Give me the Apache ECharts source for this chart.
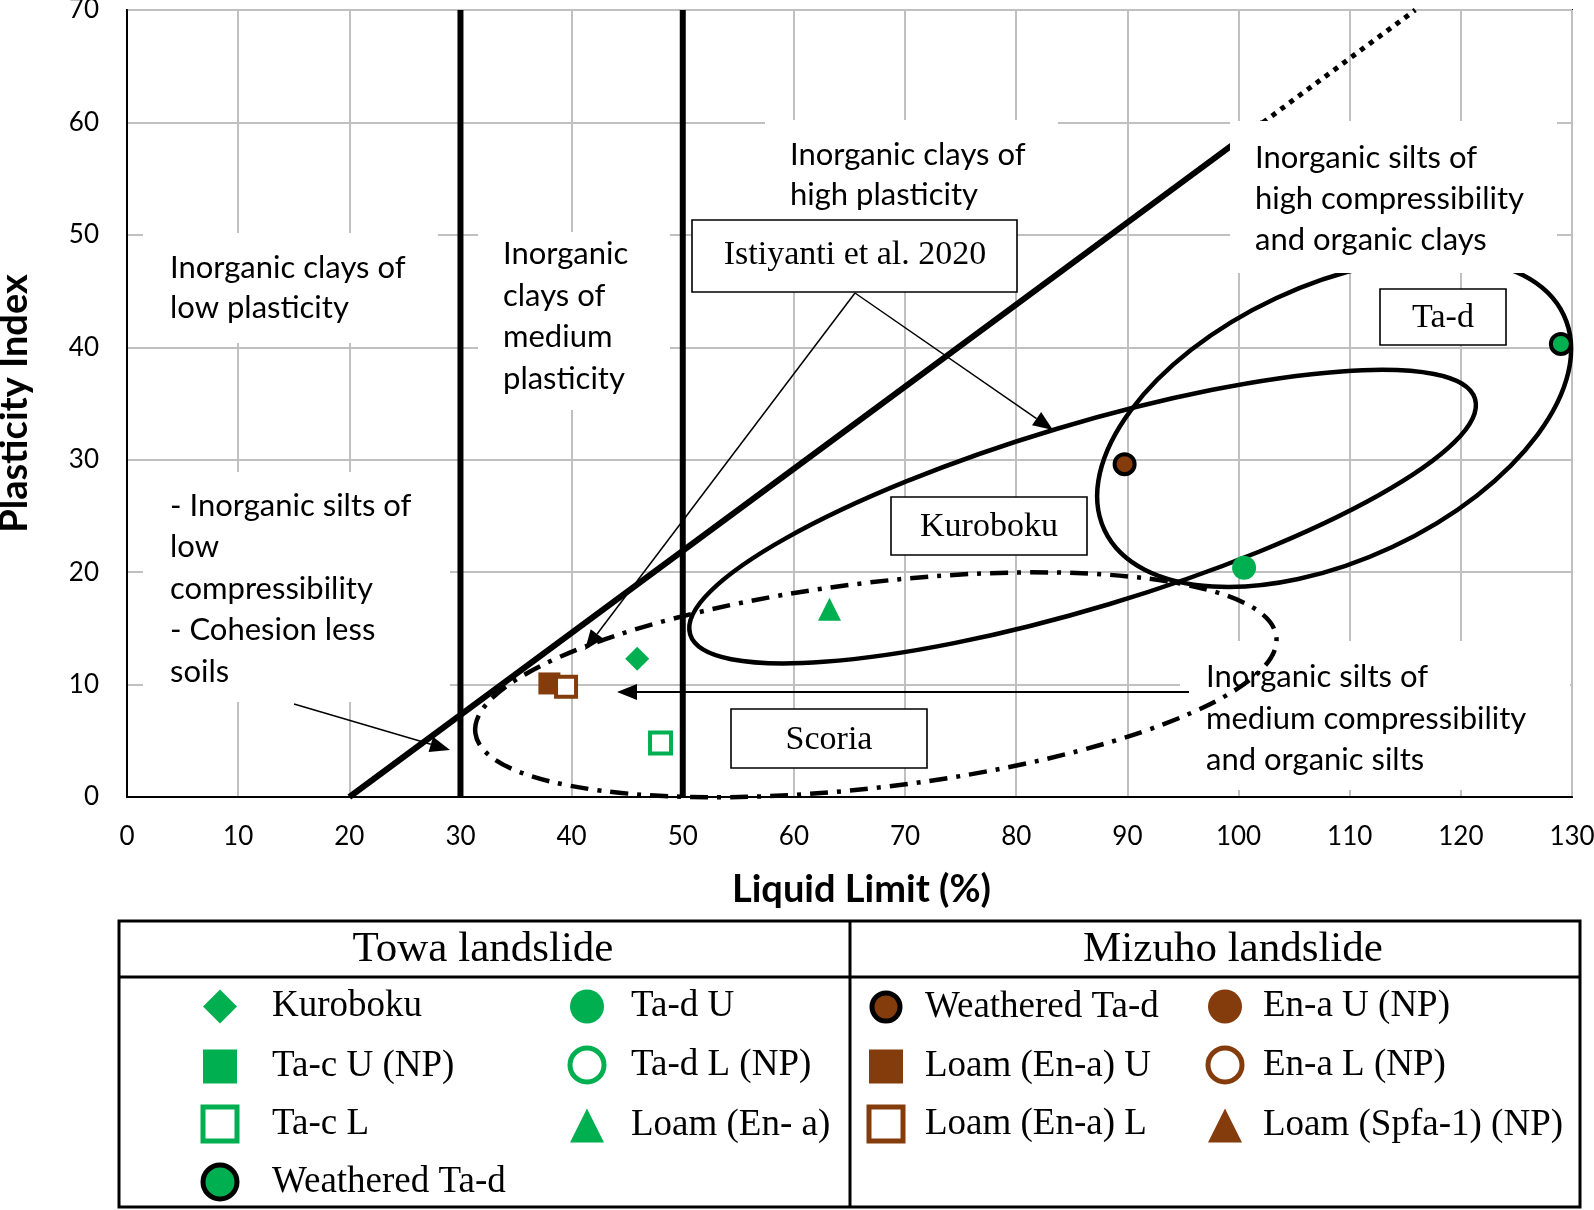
<!DOCTYPE html>
<html><head><meta charset="utf-8">
<script src="https://cdn.jsdelivr.net/npm/echarts@6/dist/echarts.min.js"></script>
<style>html,body{margin:0;padding:0;background:#fff}#c{width:1594px;height:1210px}</style>
</head><body><div id="c"></div>
<script>
// ---------- data (Liquid Limit %, Plasticity Index) ----------
const towaKuroboku       = [[45.9, 12.3]];
const towaTacU           = [];               // NP
const towaTacL           = [[48.0, 4.8]];
const towaWeatheredTad   = [[129.0, 40.3]];
const towaTadU           = [[100.5, 20.4]];
const towaTadL           = [];               // NP
const towaLoamEna        = [[63.2, 16.7]];
const mizuhoWeatheredTad = [[89.75, 29.6]];
const mizuhoLoamEnaU     = [[38.0, 10.1]];
const mizuhoLoamEnaL     = [[39.5, 9.8]];
const mizuhoEnaU         = [];               // NP
const mizuhoEnaL         = [];               // NP
const mizuhoLoamSpfa     = [];               // NP
// plasticity chart boundaries
const lineLL30    = [[30, 0], [30, 70]];
const lineLL50    = [[50, 0], [50, 70]];
const aLineSolid  = [[20, 0], [102.2, 60]];
const aLineDotted = [[102.2, 60], [115.9, 70]];
// grouping ellipses: centre (LL, PI), semi-axes (LL units), tilt (deg)
const groupNames   = ['Ta-d', 'Kuroboku', 'Scoria'];
const groupCentres = [[108.6, 33.3], [85.97, 24.94], [67.37, 9.98]];
const groupAxes    = [[22.81, 12.35], [36.86, 8.23], [36.29, 9.21]];
const groupTilt    = [25.05, 16.7, 6.85];
// legend columns
const towaCol1   = ['Kuroboku', 'Ta-c U (NP)', 'Ta-c L', 'Weathered Ta-d'];
const towaCol2   = ['Ta-d U', 'Ta-d L (NP)', 'Loam (En- a)'];
const mizuhoCol1 = ['Weathered Ta-d (Mizuho)', 'Loam (En-a) U', 'Loam (En-a) L'];
const mizuhoCol2 = ['En-a U (NP)', 'En-a L (NP)', 'Loam (Spfa-1) (NP)'];

const GREEN = '#00b050', BROWN = '#843c0c';
const SANS = 'Lato', SERIF = 'Liberation Serif';

const legendBorder = {};   // legend icon border widths for outlined markers
function scat(name, data, symbol, size, fill, border, bw) {
  if (bw) legendBorder[name] = bw + 1;
  return {
    name, type: 'scatter', data, symbol, symbolSize: size, z: 10,
    itemStyle: { color: fill, borderColor: border || fill, borderWidth: bw || 0, opacity: 1 },
    emphasis: { disabled: true }
  };
}
function bline(data, width, dash) {
  return {
    type: 'line', data, showSymbol: false, symbol: 'none', z: 2, silent: true,
    lineStyle: { color: '#000', width, type: dash || 'solid', cap: 'butt' },
    emphasis: { disabled: true }
  };
}

const series = [
  scat('Kuroboku', towaKuroboku, 'diamond', 24, GREEN),
  scat('Ta-c U (NP)', towaTacU, 'rect', 22, GREEN),
  scat('Ta-c L', towaTacL, 'rect', 21, '#fff', GREEN, 4),
  scat('Weathered Ta-d', towaWeatheredTad, 'circle', 20, GREEN, '#000', 4),
  scat('Ta-d U', towaTadU, 'circle', 24, GREEN),
  scat('Ta-d L (NP)', towaTadL, 'circle', 21, '#fff', GREEN, 4),
  scat('Loam (En- a)', towaLoamEna, 'triangle', 23, GREEN),
  scat('Weathered Ta-d (Mizuho)', mizuhoWeatheredTad, 'circle', 20, BROWN, '#000', 4),
  scat('Loam (En-a) U', mizuhoLoamEnaU, 'rect', 22, BROWN),
  scat('Loam (En-a) L', mizuhoLoamEnaL, 'rect', 20, '#fff', BROWN, 4),
  scat('En-a U (NP)', mizuhoEnaU, 'circle', 24, BROWN),
  scat('En-a L (NP)', mizuhoEnaL, 'circle', 21, '#fff', BROWN, 4),
  scat('Loam (Spfa-1) (NP)', mizuhoLoamSpfa, 'triangle', 23, BROWN),
  bline(lineLL30, 6),
  bline(lineLL50, 6),
  bline(aLineSolid, 6),
  bline(aLineDotted, 5, [5, 6])
];

// one legend component per cell of the legend table
const rowCentres = [1005, 1065, 1124, 1182];
const legends = [];
function legendCol(names, iconCx, textX) {
  names.forEach((n, r) => {
    const icon = n === 'Weathered Ta-d (Mizuho)' ? 28 : 34;
    const bw = legendBorder[n] || 0;
    const left = iconCx - icon / 2;
    legends.push({
      data: [bw ? { name: n, itemStyle: { borderWidth: bw } } : { name: n }],
      orient: 'vertical', left: left - bw / 2, top: rowCentres[r] - icon / 2 - bw / 2, padding: 0,
      itemWidth: icon, itemHeight: icon, selectedMode: false,
      formatter: s => s.replace(' (Mizuho)', ''),
      textStyle: { fontFamily: SERIF, fontSize: 37, color: '#000', lineHeight: 36,
                   padding: [0, 0, 0, textX - (left + icon + 5)] }
    });
  });
}
legendCol(towaCol1, 220, 272);
legendCol(towaCol2, 587, 631);
legendCol(mizuhoCol1, 886, 925);
legendCol(mizuhoCol2, 1225, 1263);

const option = {
  animation: false,
  backgroundColor: '#fff',
  grid: { left: 127, top: 10, right: 22, bottom: 413, containLabel: false, outerBoundsMode: 'none',
          show: true, borderColor: '#000', borderWidth: 2, backgroundColor: 'transparent' },
  xAxis: {
    type: 'value', min: 0, max: 130, interval: 10,
    name: 'Liquid Limit (%)', nameLocation: 'middle', nameGap: 74,
    nameTextStyle: { fontFamily: SANS, fontWeight: 'bold', fontSize: 38, color: '#000', padding: [0, 0, 0, 24] },
    axisLine: { show: true, lineStyle: { color: '#000', width: 2 } },
    axisTick: { show: false },
    axisLabel: { fontFamily: SANS, fontSize: 26, color: '#000', margin: 27 },
    splitLine: { show: true, lineStyle: { color: '#c0c0c0', width: 2 } }
  },
  yAxis: {
    type: 'value', min: 0, max: 70, interval: 10,
    name: 'Plasticity Index', nameLocation: 'middle', nameGap: 93,
    nameTextStyle: { fontFamily: SANS, fontWeight: 'bold', fontSize: 38, color: '#000' },
    axisLine: { show: true, lineStyle: { color: '#000', width: 2 } },
    axisTick: { show: false },
    axisLabel: { fontFamily: SANS, fontSize: 26, color: '#000', margin: 28 },
    splitLine: { show: true, lineStyle: { color: '#c0c0c0', width: 2 } }
  },
  legend: legends,
  series
};

const chart = echarts.init(document.getElementById('c'), null, { renderer: 'canvas' });
chart.setOption(option);

// ---------- annotations ----------
const g = [];
function whiteBox(x, y, w, h) {
  g.push({ type: 'rect', shape: { x, y, width: w, height: h }, style: { fill: '#fff' }, z: 3, silent: true });
}
function sansText(x, y, text, lh) {
  g.push({ type: 'text', x, y, z: 7, silent: true,
    style: { text, font: '31px ' + SANS, fill: '#000', lineHeight: lh || 41, verticalAlign: 'top', align: 'left' } });
}
function labelBox(x1, y1, x2, y2, text, cx, cy) {
  g.push({ type: 'rect', shape: { x: x1, y: y1, width: x2 - x1, height: y2 - y1 },
    style: { fill: '#fff', stroke: '#000', lineWidth: 1.6 }, z: 5, silent: true });
  g.push({ type: 'text', x: cx, y: cy, z: 6, silent: true,
    style: { text, font: '34px ' + SERIF, fill: '#000', align: 'center', verticalAlign: 'middle' } });
}
function arrow(x1, y1, x2, y2, lw) {
  const hl = 20, hw = 8;
  const a = Math.atan2(y2 - y1, x2 - x1);
  const bx = x2 - hl * Math.cos(a), by = y2 - hl * Math.sin(a);
  const nx = -Math.sin(a), ny = Math.cos(a);
  g.push({ type: 'line', shape: { x1, y1, x2: bx, y2: by }, style: { stroke: '#000', lineWidth: lw || 1.5 }, z: 6, silent: true });
  g.push({ type: 'polygon', shape: { points: [[x2, y2], [bx + nx * hw, by + ny * hw], [bx - nx * hw, by - ny * hw]] },
    style: { fill: '#000' }, z: 6, silent: true });
}

// white text areas
whiteBox(143, 233, 295, 110);    // low plasticity clays
whiteBox(478, 232, 192, 178);    // medium plasticity clays
whiteBox(765, 120, 293, 100);    // high plasticity clays
whiteBox(1230, 121, 327, 152);   // high compressibility silts
whiteBox(143, 472, 307, 230);    // low compressibility silts
whiteBox(1180, 641, 390, 149);   // medium compressibility silts

sansText(170, 248, 'Inorganic clays of\nlow plasticity', 40);
sansText(503, 233, 'Inorganic\nclays of\nmedium\nplasticity', 41.7);
sansText(790, 135, 'Inorganic clays of\nhigh plasticity', 40);
sansText(1255, 137, 'Inorganic silts of\nhigh compressibility\nand organic clays', 41);
sansText(170, 485, '- Inorganic silts of\nlow\ncompressibility\n- Cohesion less\nsoils', 41.5);
sansText(1206, 656, 'Inorganic silts of\nmedium compressibility\nand organic silts', 41.7);

// grouping ellipses
const sxUnit = chart.convertToPixel({ gridIndex: 0 }, [1, 0])[0] - chart.convertToPixel({ gridIndex: 0 }, [0, 0])[0];
groupNames.forEach((nm, i) => {
  const p = chart.convertToPixel({ gridIndex: 0 }, groupCentres[i]);
  const dashed = nm === 'Scoria';
  g.push({
    type: 'ellipse', x: p[0], y: p[1], rotation: groupTilt[i] * Math.PI / 180,
    shape: { cx: 0, cy: 0, rx: groupAxes[i][0] * sxUnit, ry: groupAxes[i][1] * sxUnit },
    style: { fill: 'none', stroke: '#000', lineWidth: 4.5, lineDash: dashed ? [18, 9, 4, 9] : null },
    z: dashed ? 4 : 2.5, silent: true
  });
});

labelBox(692, 220, 1017, 292, 'Istiyanti et al. 2020', 855, 255);
labelBox(1380, 289, 1506, 345, 'Ta-d', 1443, 318);
labelBox(891, 497, 1087, 555, 'Kuroboku', 989, 527);
labelBox(731, 709, 927, 768, 'Scoria', 829, 740);

arrow(855, 293, 585, 650);
arrow(855, 293, 1053, 430);
arrow(1189, 692, 617, 692, 2);
arrow(294, 704, 450, 750);

// legend frame
g.push({ type: 'rect', shape: { x: 119, y: 921, width: 1461, height: 286 }, style: { fill: 'none', stroke: '#000', lineWidth: 3 }, z: 1, silent: true });
g.push({ type: 'line', shape: { x1: 119, y1: 977, x2: 1580, y2: 977 }, style: { stroke: '#000', lineWidth: 3 }, z: 1, silent: true });
g.push({ type: 'line', shape: { x1: 850, y1: 921, x2: 850, y2: 1207 }, style: { stroke: '#000', lineWidth: 3 }, z: 1, silent: true });
g.push({ type: 'text', x: 483, y: 950, z: 6, silent: true, style: { text: 'Towa landslide', font: '43px ' + SERIF, fill: '#000', align: 'center', verticalAlign: 'middle' } });
g.push({ type: 'text', x: 1233, y: 950, z: 6, silent: true, style: { text: 'Mizuho landslide', font: '43px ' + SERIF, fill: '#000', align: 'center', verticalAlign: 'middle' } });

chart.setOption({ graphic: g });
</script></body></html>
